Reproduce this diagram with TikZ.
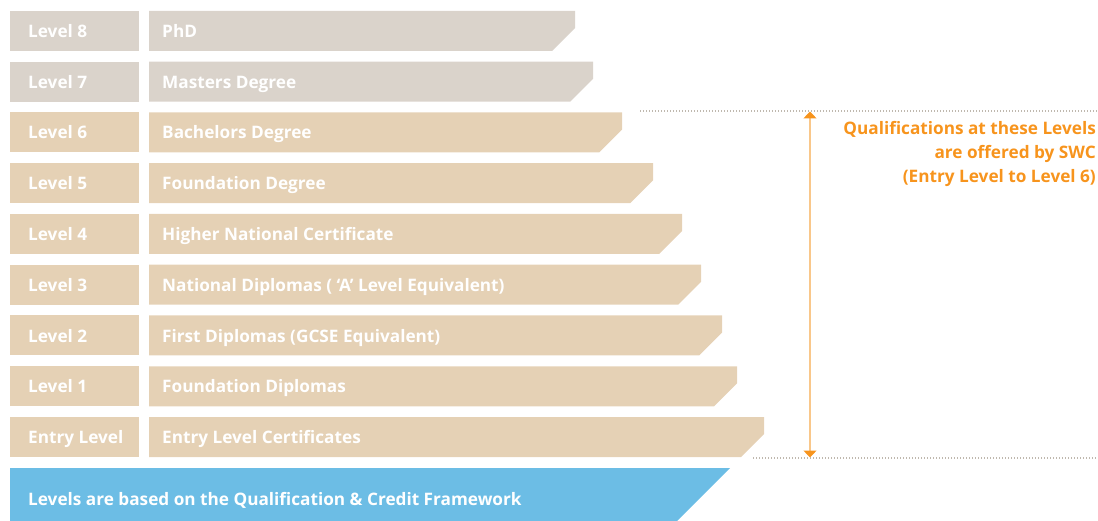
\documentclass[tikz,border=0pt]{standalone}
\usepackage{fontspec}
\setmainfont{Open Sans}
\usetikzlibrary{arrows.meta}
\definecolor{greybox}{HTML}{DAD3CB}
\definecolor{tanbox}{HTML}{E5D1B5}
\definecolor{bluebox}{HTML}{6CBDE5}
\definecolor{orangetxt}{HTML}{F7941D}
\definecolor{orangeline}{HTML}{F9C78A}
\definecolor{dotgrey}{HTML}{BFB8AE}
\tikzset{
  lbl/.style={anchor=base west, text=white, font=\bfseries\fontsize{17.2}{20}\selectfont, inner sep=0pt},
  dotline/.style={dotgrey, line width=1.2pt, dash pattern=on 1.2pt off 1.8pt},
}
\newcommand{\rowbar}[5]{% index, right x, colour, left text, right text
  \pgfmathsetmacro{\yt}{11+50.75*#1}
  \pgfmathsetmacro{\yb}{\yt+40}
  \pgfmathsetmacro{\yc}{\yt+17}
  \pgfmathsetmacro{\xr}{#2}
  \pgfmathsetmacro{\xd}{#2-23}
  \pgfmathsetmacro{\ym}{\yt+26.5}
  \fill[#3] (10,\yt) rectangle (139,\yb);
  \fill[#3] (149,\yt) -- (\xr,\yt) -- (\xr,\yc) -- (\xd,\yb) -- (149,\yb) -- cycle;
  \node[lbl] (L#1) at (28,\ym) {#4};
  \node[lbl] (R#1) at (162,\ym) {#5};
}
\begin{document}
\begin{tikzpicture}[x=1pt,y=-1pt]
\useasboundingbox (0,0) rectangle (1098,521);
\rowbar{0}{575}{greybox}{Level 8}{PhD}
\rowbar{1}{593}{greybox}{Level 7}{Masters Degree}
\rowbar{2}{622}{tanbox}{Level 6}{Bachelors Degree}
\rowbar{3}{653}{tanbox}{Level 5}{Foundation Degree}
\rowbar{4}{682}{tanbox}{Level 4}{Higher National Certificate}
\rowbar{5}{701}{tanbox}{Level 3}{National Diplomas ( ‘A’ Level Equivalent)}
\rowbar{6}{722}{tanbox}{Level 2}{First Diplomas (GCSE Equivalent)}
\rowbar{7}{737}{tanbox}{Level 1}{Foundation Diplomas}
\rowbar{8}{764}{tanbox}{Entry Level}{Entry Level Certificates}
\fill[bluebox] (10,468) -- (730,468) -- (677,521) -- (10,521) -- cycle;
\node[lbl] (base) at (28,505.5) {Levels are based on the Qualification \& Credit Framework};
\coordinate (dtA) at (640,111);
\coordinate (dtB) at (1098,111);
\coordinate (dbA) at (753,458);
\coordinate (dbB) at (1098,458);
\draw[dotline] (dtA) -- (dtB);
\draw[dotline] (dbA) -- (dbB);
\coordinate (arT) at (810,111.5);
\coordinate (arB) at (810,457.5);
\draw[orangeline, line width=1.3pt, {Triangle[width=13pt,length=7pt,color=orangetxt]}-{Triangle[width=13pt,length=7pt,color=orangetxt]}] (arT) -- (arB);
\node[anchor=north east, text=orangetxt, align=right, inner sep=0pt,
  font=\bfseries\fontsize{17.2}{24}\selectfont] (note) at (1096,121)
  {Qualifications at these Levels\\are offered by SWC\\(Entry Level to Level 6)};
\end{tikzpicture}
\end{document}
